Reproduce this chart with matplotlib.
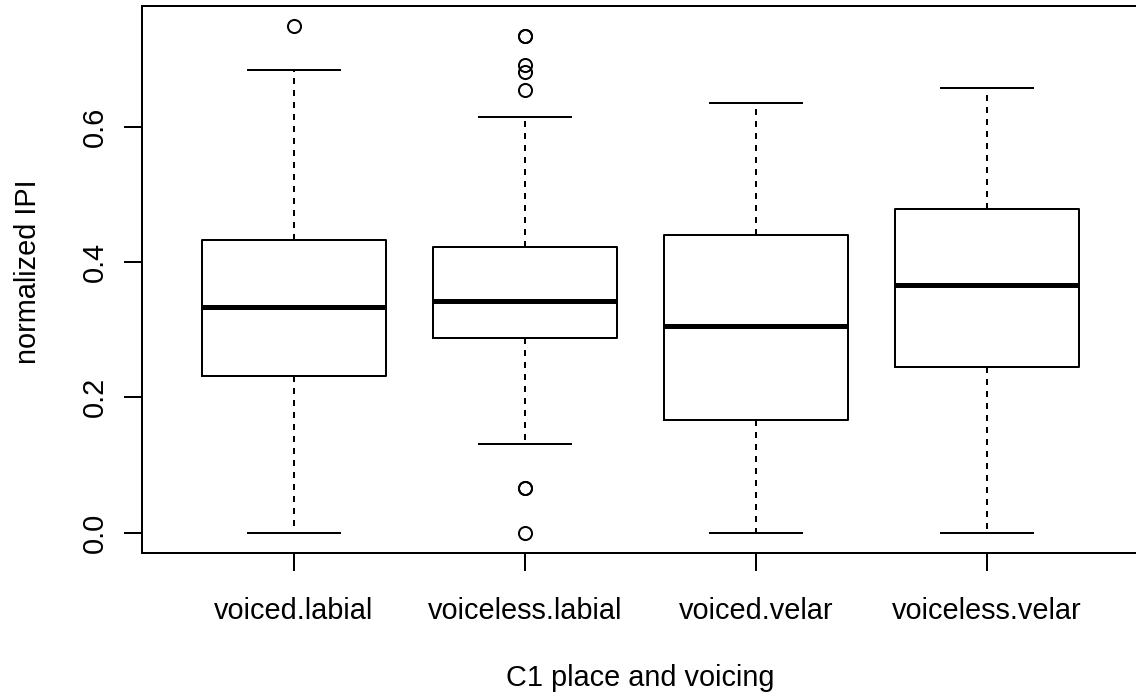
import matplotlib
matplotlib.use("Agg")
import matplotlib.pyplot as plt

plt.rcParams['font.family'] = ['Liberation Sans', 'DejaVu Sans']

# five-number summaries
groups = ["voiced.labial", "voiceless.labial", "voiced.velar", "voiceless.velar"]
whislo = [0.0, 0.131, 0.0, 0.0]
q1 = [0.231, 0.2885, 0.167, 0.245]
med = [0.333, 0.343, 0.305, 0.366]
q3 = [0.433, 0.423, 0.440, 0.478]
whishi = [0.684, 0.615, 0.636, 0.657]
fliers = [[0.749],
          [0.735, 0.735, 0.692, 0.681, 0.654, 0.0655, 0.0655, 0.0],
          [],
          []]
yticks = [0.0, 0.2, 0.4, 0.6]

LW = 1.44  # ~2px at 100 dpi
FS = 20.8

stats = []
for i in range(len(groups)):
    stats.append(dict(label=groups[i], whislo=whislo[i], q1=q1[i], med=med[i],
                      q3=q3[i], whishi=whishi[i], fliers=fliers[i]))

fig = plt.figure(figsize=(11.36, 6.95), dpi=100)
ax = fig.add_axes([141.5 / 1136, 1 - 552.8 / 695, 4.32 * 231 / 1136, 546.8 / 695])

pos = list(range(1, len(groups) + 1))
ax.bxp(stats, positions=pos, widths=0.8, capwidths=0.4,
       boxprops=dict(color='black', linewidth=LW),
       medianprops=dict(color='black', linewidth=3.6, solid_capstyle='butt'),
       whiskerprops=dict(color='black', linewidth=LW, linestyle=(0, (3, 3))),
       capprops=dict(color='black', linewidth=LW),
       flierprops=dict(marker='o', markerfacecolor='none', markeredgecolor='black',
                       markersize=9.4, markeredgewidth=LW))

allv = whislo + whishi + [v for f in fliers for v in f]
lo, hi = min(allv), max(allv)
r = hi - lo
ax.set_ylim(lo - 0.04 * r, hi + 0.04 * r)
ax.set_xlim(0.5 - 0.04 * 4, len(groups) + 0.5 + 0.04 * 4)

ax.set_xticks(pos)
ax.set_xticklabels(groups)
ax.set_yticks(yticks)
ax.set_yticklabels(["%.1f" % v for v in yticks])
ax.tick_params(axis='both', length=12.7, width=LW, labelsize=FS, color='black')
ax.tick_params(axis='x', pad=19)
ax.tick_params(axis='y', pad=11, labelrotation=90)
plt.setp(ax.get_yticklabels(), va='center')

for s in ax.spines.values():
    s.set_linewidth(LW)

ax.set_xlabel("C1 place and voicing", fontsize=FS)
ax.xaxis.set_label_coords(0.5, -0.203)
ax.set_ylabel("normalized IPI", fontsize=FS)
ax.yaxis.set_label_coords(-0.1, 0.515)

fig.savefig("out.png", dpi=100)
